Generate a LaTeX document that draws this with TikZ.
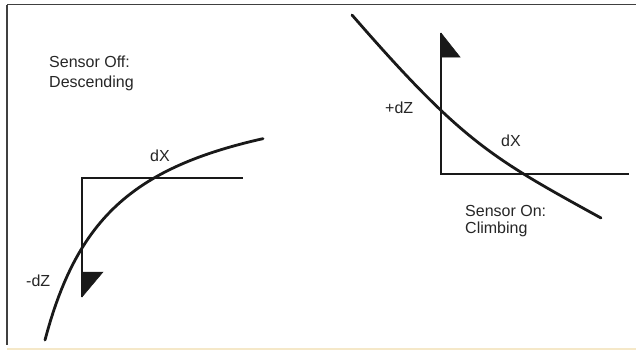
\documentclass[tikz,border=0pt]{standalone}
\usepackage{fontspec}
\setmainfont{Liberation Sans}
\begin{document}
\begin{tikzpicture}[x=1pt,y=-1pt,
  lbl/.style={anchor=base west,inner sep=0pt,font=\fontsize{16}{19}\selectfont,text=black!85},
  axis/.style={line width=1.3pt,draw=black!90},
  curve/.style={line width=2.8pt,draw=black!90,line cap=round},
  tri/.style={fill=black!90,draw=black!90,line width=0.5pt}]
\useasboundingbox (0,0) rectangle (636,351);
\fill[white] (0,0) rectangle (636,351);
% frame
\draw[line width=1.6pt,draw=black!75] (7,4.5) -- (636,4.5);
\draw[line width=1.2pt,draw=black!75] (7,4.5) -- (7,345);
\draw[line width=2pt,draw={rgb,255:red,245;green,232;blue,200}] (7,348.5) -- (636,348.5);
% left diagram
\coordinate (lc) at (82,178);
\coordinate (lx) at (243,178);
\coordinate (lz) at (82,297);
\draw[axis] (lz) -- (lc) -- (lx);
\fill[tri] (82,272) -- (103,272) -- (lz) -- cycle;
\draw[curve] plot[domain=45:263,samples=80] (\x,{74+186.23/((\x+25)/100)});
\node[lbl] (ldx) at (150,161) {dX};
\node[lbl] (ldz) at (26,286) {-dZ};
\node[lbl] (off1) at (49,67) {Sensor Off:};
\node[lbl] (off2) at (49,87) {Descending};
% right diagram
\coordinate (rc) at (441,174);
\coordinate (rx) at (629,174);
\coordinate (rz) at (441,33);
\draw[axis] (rz) -- (rc) -- (rx);
\fill[tri] (rz) -- (441,57) -- (460,57) -- cycle;
\draw[curve] (352,15) .. controls (462,141.5) and (491,157.5) .. (601,218);
\node[lbl] (rdz) at (385,113) {+dZ};
\node[lbl] (rdx) at (501,146) {dX};
\node[lbl] (on1) at (465,216) {Sensor On:};
\node[lbl] (on2) at (465,233) {Climbing};
\end{tikzpicture}
\end{document}
